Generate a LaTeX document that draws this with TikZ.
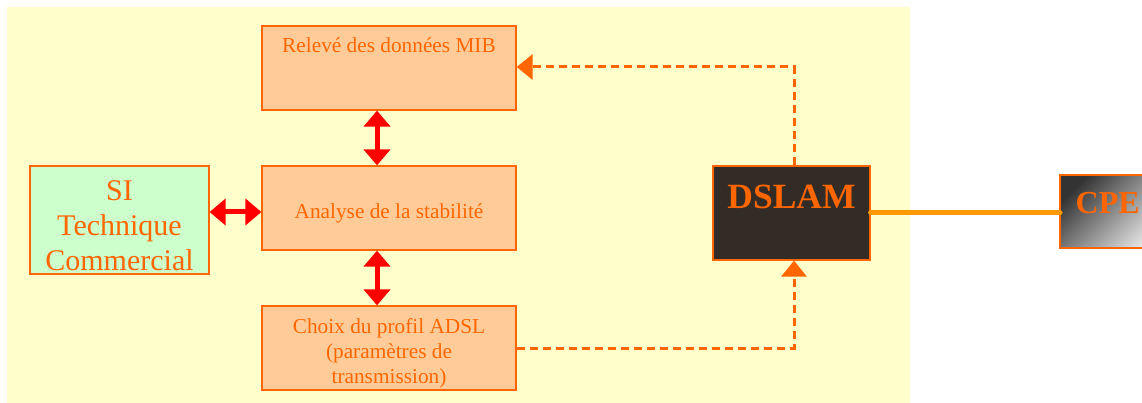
\documentclass[tikz,border=0pt]{standalone}
\usepackage{fontspec}
\setmainfont{Liberation Serif}
\usetikzlibrary{arrows.meta,calc}
\definecolor{bgyellow}{HTML}{FFFFCC}
\definecolor{boxfill}{HTML}{FFCC99}
\definecolor{edgeorange}{HTML}{FF6600}
\definecolor{sigreen}{HTML}{CCFFCC}
\definecolor{dslamfill}{HTML}{332B26}
\definecolor{linkorange}{HTML}{FF9900}
\tikzset{
  procbox/.style={draw=edgeorange, fill=boxfill, line width=1.2pt, minimum width=254pt, minimum height=84pt, inner sep=0pt},
  proctext/.style={text=edgeorange, font=\fontsize{21.3}{24.8}\selectfont, align=center, inner sep=0pt},
  sibox/.style={draw=edgeorange, fill=sigreen, line width=1.2pt, minimum width=179pt, minimum height=108pt, inner sep=0pt},
  sitext/.style={text=edgeorange, font=\fontsize{30}{35}\selectfont, align=center, inner sep=0pt},
  dslambox/.style={draw=edgeorange, fill=dslamfill, line width=1.2pt, minimum width=157pt, minimum height=94pt, inner sep=0pt},
  bigbold/.style={text=edgeorange, font=\fontsize{35.5}{40}\selectfont\bfseries},
  redarrow/.style={draw=red, line width=5pt, {Triangle[width=26pt,length=16pt]}-{Triangle[width=26pt,length=16pt]}},
  dasharrow/.style={draw=edgeorange, line width=3pt, dash pattern=on 8pt off 5pt, -{Triangle[width=25pt,length=16pt]}},
  linkline/.style={draw=linkorange, line width=5pt, line cap=round}
}
\begin{document}
\begin{tikzpicture}[x=1pt,y=-1pt]
\useasboundingbox (0,0) rectangle (1142,403);
\clip (0,0) rectangle (1142,403);
\fill[bgyellow] (7,7) rectangle (910,403);
% boxes
\node[procbox, label={[proctext, anchor=north, yshift=-12pt]north:Relevé des données MIB}] (mib) at (389,68) {};
\node[procbox, label={[proctext, anchor=center, yshift=-5pt]center:Analyse de la stabilité}] (ana) at (389,208) {};
\node[procbox, label={[proctext, anchor=center, yshift=-5pt]center:Choix du profil ADSL\\(paramètres de\\transmission)}] (cho) at (389,348) {};
\node[sibox, label={[sitext, anchor=center, yshift=-6pt]center:SI\\Technique\\Commercial}] (si) at (119.5,220) {};
\node[dslambox, label={[bigbold, anchor=north, inner sep=0pt, yshift=-19pt]north:DSLAM}] (dslam) at (791.5,213) {};
\shade[draw=edgeorange, line width=1.2pt, top color=black!80, bottom color=black!8, shading angle=45] (1060,175) rectangle (1170,248);
\node[text=edgeorange, font=\fontsize{32}{36}\selectfont\bfseries, anchor=west, inner sep=0pt] (cpe) at (1075.5,203) {CPE};
\coordinate (cpew) at (1060,211);
% connectors
\coordinate (ax) at (377,0);
\coordinate (ay) at (0,212);
\coordinate (dx) at (794,0);
\coordinate (my) at (0,67);
\draw[redarrow] (mib.south -| ax) -- (ana.north -| ax);
\draw[redarrow] (ana.south -| ax) -- (cho.north -| ax);
\draw[redarrow] (si.east |- ay) -- (ana.west |- ay);
\draw[dasharrow] (dslam.north -| dx) |- (mib.east |- my);
\draw[dasharrow] (cho.east) -| (dslam.south -| dx);
\draw[linkline] (dslam.east) -- (cpew |- dslam.east);
\end{tikzpicture}
\end{document}
